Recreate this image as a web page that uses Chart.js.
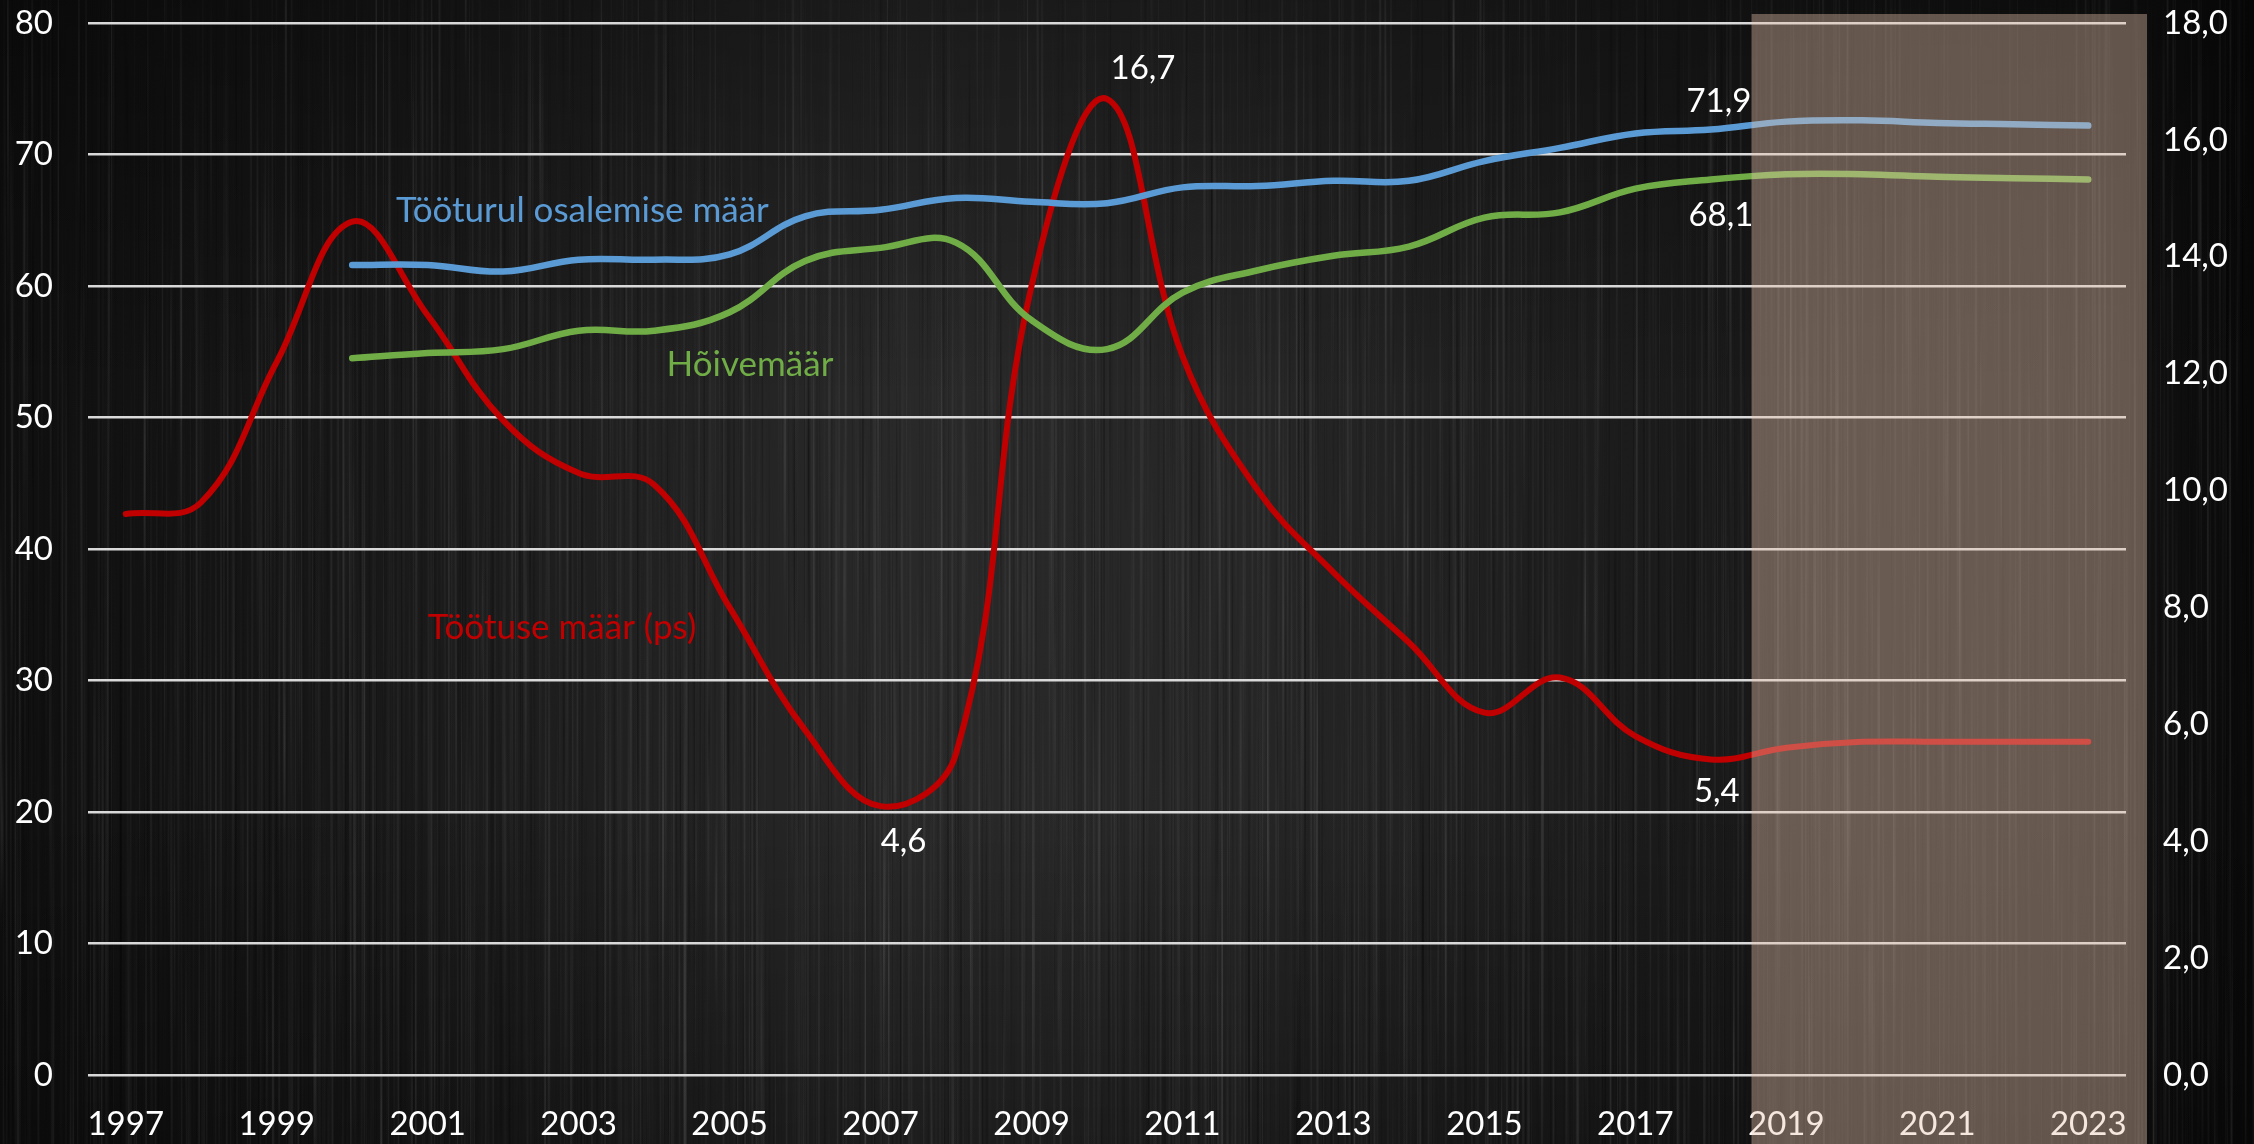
<!DOCTYPE html>
<html lang="et">
<head>
  <meta charset="UTF-8">
  <title>Tööturu näitajad</title>
  <style type="text/css">
    html, body {
      margin: 0;
      padding: 0;
      background-color: #111;
      overflow: hidden;
    }
    #wrap {
      width: 2254px;
      height: 1144px;
    }
  </style>
  <script src="https://cdn.jsdelivr.net/npm/chart.js@4.4.1/dist/chart.umd.min.js"></script>
</head>
<body>
  <div id="wrap"><canvas id="chart" width="2254" height="1144"></canvas></div>

  <script>
    // --- data ---
    const years = ['1997', '1998', '1999', '2000', '2001', '2002', '2003', '2004', '2005',
      '2006', '2007', '2008', '2009', '2010', '2011', '2012', '2013', '2014', '2015',
      '2016', '2017', '2018', '2019', '2020', '2021', '2022', '2023'];

    // Tööturul osalemise määr (left axis)
    const participation = [null, null, null, 61.6, 61.6, 61.1, 62.0, 62.0, 62.4,
      65.3, 65.8, 66.7, 66.4, 66.3, 67.5, 67.6, 68.0, 68.0, 69.5,
      70.5, 71.6, 71.9, 72.5, 72.6, 72.4, 72.3, 72.2];

    // Hõivemäär (left axis)
    const employment = [null, null, null, 54.5, 54.9, 55.2, 56.6, 56.6, 58.0,
      61.9, 62.9, 63.3, 57.4, 55.2, 59.5, 61.2, 62.3, 63.0, 65.2,
      65.6, 67.4, 68.1, 68.5, 68.5, 68.3, 68.2, 68.1];

    // Töötuse määr (right axis)
    const unemployment = [9.6, 9.8, 12.2, 14.6, 13.0, 11.2, 10.3, 10.1, 8.0,
      5.9, 4.6, 5.5, 13.5, 16.7, 12.3, 10.0, 8.6, 7.4, 6.2,
      6.8, 5.8, 5.4, 5.6, 5.7, 5.7, 5.7, 5.7];

    const leftAxis = { min: 0, max: 80, step: 10 };
    const rightAxis = { min: 0, max: 18, step: 2 };
    const forecastFrom = '2019';

    const FONT = 'Lato, "Open Sans", sans-serif';
    const FS = 33;
    const comma = v => v.toFixed(1).replace('.', ',');

    // value labels: dataset index, year, pixel offset from the point
    const valueLabels = [
      { ds: 2, year: '2010', dx: 36, dy: -31 },
      { ds: 2, year: '2007', dx: 23, dy: 35 },
      { ds: 2, year: '2018', dx: 6, dy: 32 },
      { ds: 0, year: '2018', dx: 8, dy: -28 },
      { ds: 1, year: '2018', dx: 10, dy: 36 }
    ];

    // series names, placed in left-axis coordinates (category index, value)
    const seriesNames = [
      { text: 'Tööturul osalemise määr', color: '#5b9bd5', at: 6.05, value: 65.7 },
      { text: 'Hõivemäär', color: '#70ad47', at: 8.27, value: 54.0 },
      { text: 'Töötuse määr (ps)', color: '#c00000', at: 5.78, value: 34.0 }
    ];

    // --- brushed metal background, built once ---
    function mulberry32(a) {
      return function() {
        a |= 0; a = a + 0x6D2B79F5 | 0;
        let t = Math.imul(a ^ a >>> 15, 1 | a);
        t = t + Math.imul(t ^ t >>> 7, 61 | t) ^ t;
        return ((t ^ t >>> 14) >>> 0) / 4294967296;
      };
    }

    function buildBackground(w, h) {
      const c = document.createElement('canvas');
      c.width = w; c.height = h;
      const g = c.getContext('2d');
      const hg = g.createLinearGradient(0, 0, w, 0);
      hg.addColorStop(0, '#0f0f0f');
      hg.addColorStop(0.15, '#171717');
      hg.addColorStop(0.4, '#292929');
      hg.addColorStop(0.55, '#262626');
      hg.addColorStop(0.75, '#1a1a1a');
      hg.addColorStop(0.94, '#121212');
      hg.addColorStop(1, '#090909');
      g.fillStyle = hg;
      g.fillRect(0, 0, w, h);
      const vg = g.createLinearGradient(0, 0, 0, h);
      vg.addColorStop(0, 'rgba(0,0,0,0.35)');
      vg.addColorStop(0.35, 'rgba(0,0,0,0)');
      vg.addColorStop(0.7, 'rgba(0,0,0,0)');
      vg.addColorStop(1, 'rgba(0,0,0,0.3)');
      g.fillStyle = vg;
      g.fillRect(0, 0, w, h);

      const rnd = mulberry32(7);
      for (let i = 0; i < 3600; i++) {
        const x = rnd() * w;
        const y = rnd() * h * 1.2 - h * 0.2;
        const len = 150 + rnd() * 900;
        const lw = 0.6 + rnd() * 1.6;
        const light = rnd() < 0.6;
        const a = light ? 0.02 + rnd() * 0.05 : 0.08 + rnd() * 0.2;
        const lg = g.createLinearGradient(0, y, 0, y + len);
        const col = light ? '255,255,255' : '0,0,0';
        lg.addColorStop(0, 'rgba(' + col + ',0)');
        lg.addColorStop(0.5, 'rgba(' + col + ',' + a + ')');
        lg.addColorStop(1, 'rgba(' + col + ',0)');
        g.fillStyle = lg;
        g.fillRect(x, y, lw, len);
      }
      return c;
    }

    const bgImage = buildBackground(2254, 1144);

    const backgroundPlugin = {
      id: 'bg',
      beforeDraw(chart) {
        chart.ctx.drawImage(bgImage, 0, 0);
      }
    };

    // forecast shading, drawn over the lines
    const forecastPlugin = {
      id: 'forecast',
      afterDatasetsDraw(chart) {
        const x = chart.scales.x;
        const area = chart.chartArea;
        const i = years.indexOf(forecastFrom);
        const left = (x.getPixelForValue(i - 1) + x.getPixelForValue(i)) / 2 + 3;
        const right = area.right + 21;
        const ctx = chart.ctx;
        ctx.save();
        ctx.fillStyle = 'rgba(230,196,172,0.40)';
        ctx.fillRect(left, area.top - 9, right - left, chart.height - area.top + 9);
        ctx.restore();
      }
    };

    const labelPlugin = {
      id: 'labels',
      afterDraw(chart) {
        const ctx = chart.ctx;
        ctx.save();
        ctx.font = FS + 'px ' + FONT;
        ctx.textAlign = 'center';
        ctx.textBaseline = 'middle';
        ctx.fillStyle = '#ffffff';
        valueLabels.forEach(l => {
          const meta = chart.getDatasetMeta(l.ds);
          const idx = years.indexOf(l.year);
          const pt = meta.data[idx];
          const v = chart.data.datasets[l.ds].data[idx];
          ctx.fillText(comma(v), pt.x + l.dx, pt.y + l.dy);
        });
        // series names a touch larger than the tick text
        ctx.font = '35px ' + FONT;
        const xs = chart.scales.x, ys = chart.scales.y;
        seriesNames.forEach(s => {
          ctx.fillStyle = s.color;
          ctx.fillText(s.text, xs.getPixelForValue(s.at), ys.getPixelForValue(s.value));
        });
        ctx.restore();
      }
    };

    Chart.defaults.font.family = FONT;
    Chart.defaults.font.size = FS;
    Chart.defaults.color = '#ffffff';

    function noPad(s) {
      s.paddingTop = 0;
      s.paddingBottom = 0;
      s.paddingLeft = 0;
      s.paddingRight = 0;
    }

    new Chart(document.getElementById('chart').getContext('2d'), {
      type: 'line',
      data: {
        labels: years,
        datasets: [
          {
            label: 'Tööturul osalemise määr',
            data: participation,
            yAxisID: 'y',
            borderColor: '#5b9bd5',
            borderWidth: 6.5,
            tension: 0.4,
            pointRadius: 0,
            borderCapStyle: 'round'
          },
          {
            label: 'Hõivemäär',
            data: employment,
            yAxisID: 'y',
            borderColor: '#70ad47',
            borderWidth: 6.5,
            tension: 0.4,
            pointRadius: 0,
            borderCapStyle: 'round'
          },
          {
            label: 'Töötuse määr (ps)',
            data: unemployment,
            yAxisID: 'y1',
            borderColor: '#c00000',
            borderWidth: 6,
            tension: 0.4,
            pointRadius: 0,
            borderCapStyle: 'round'
          }
        ]
      },
      options: {
        responsive: false,
        animation: false,
        layout: { padding: { top: 23, left: 0, right: 0, bottom: 0 } },
        plugins: {
          legend: { display: false },
          tooltip: { enabled: false }
        },
        scales: {
          x: {
            offset: true,
            grid: { display: false, drawTicks: false },
            border: { display: false },
            ticks: {
              autoSkip: false,
              maxRotation: 0,
              padding: 30,
              color: '#ffffff',
              callback: function(val, i) { return i % 2 === 0 ? years[i] : ''; }
            },
            afterFit(s) { s.height = 69; noPad(s); }
          },
          y: {
            position: 'left',
            min: leftAxis.min,
            max: leftAxis.max,
            grid: { color: '#d9d9d9', lineWidth: 2.5, drawTicks: false },
            border: { display: false },
            ticks: { stepSize: leftAxis.step, padding: 35, color: '#ffffff' },
            afterFit(s) { s.width = 88; noPad(s); }
          },
          y1: {
            position: 'right',
            min: rightAxis.min,
            max: rightAxis.max,
            grid: { display: false, drawTicks: false },
            border: { display: false },
            ticks: {
              stepSize: rightAxis.step,
              padding: 37,
              color: '#ffffff',
              callback: v => comma(v)
            },
            afterFit(s) { s.width = 128; noPad(s); }
          }
        }
      },
      plugins: [backgroundPlugin, forecastPlugin, labelPlugin]
    });
  </script>
</body>
</html>
